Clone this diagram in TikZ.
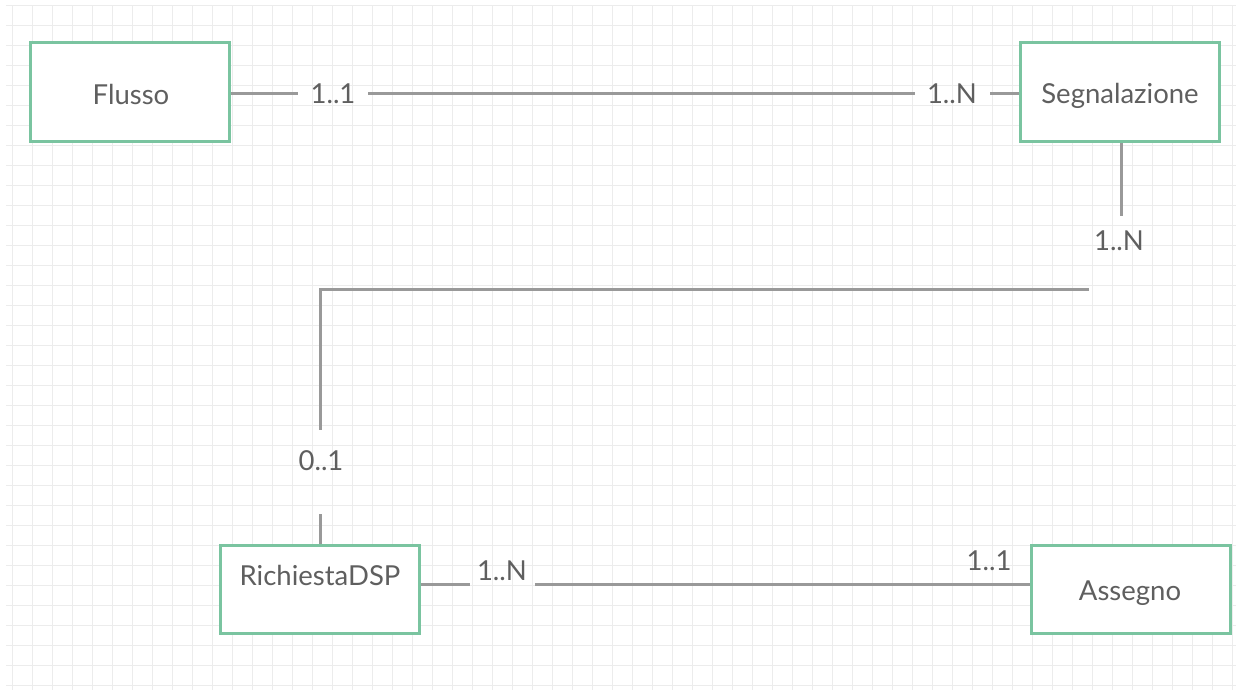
\documentclass[tikz,border=0pt]{standalone}
\usepackage{fontspec}
\setmainfont{Lato}
\definecolor{boxgreen}{RGB}{122,196,160}
\definecolor{linegray}{RGB}{153,153,153}
\definecolor{txtgray}{RGB}{95,95,95}
\definecolor{gridgray}{RGB}{236,236,236}
\begin{document}
\begin{tikzpicture}[x=1pt,y=-1pt,
  entity/.style={draw=boxgreen,line width=3pt,fill=white,minimum width=199pt,text=txtgray,font=\fontsize{27.5}{30}\selectfont,inner sep=0pt},
  card/.style={text=txtgray,font=\fontsize{27.5}{30}\selectfont,inner sep=0pt},
  conn/.style={draw=linegray,line width=3pt}]
\useasboundingbox (0,0) rectangle (1242,695);
\fill[white] (0,0) rectangle (1242,695);
\foreach \x in {12,32,...,1232} \draw[gridgray,line width=0.8pt] (\x,6) -- (\x,690);
\foreach \y in {5,25,...,685} \draw[gridgray,line width=0.8pt] (6,\y) -- (1236,\y);
% entities
\node[entity,minimum height=99pt] (flusso) at (130,92.5) {};
\node[card] (flussotxt) at (131,94) {Flusso};
\node[entity,minimum height=99pt] (seg) at (1120,92.5) {};
\node[card] (segtxt) at (1120,96) {Segnalazione};
\node[entity,minimum height=88pt] (rich) at (319.5,589) {};
\node[card] (richtxt) at (320,575) {RichiestaDSP};
\node[entity,minimum height=88pt] (ass) at (1130.5,589) {};
\node[card] (asstxt) at (1130,593) {Assegno};
% cardinality labels
\node[card] (c1) at (333,94) {1..1};
\node[card] (c2) at (952,94) {1..N};
\node[card] (c3) at (1119,241) {1..N};
\node[card] (c4) at (321,461) {0..1};
\node[card] (c5) at (502,571) {1..N};
\node[card] (c6) at (989,561) {1..1};
% gap end points
\coordinate (g1) at (298,94);
\coordinate (g2) at (368,94);
\coordinate (g3) at (915,94);
\coordinate (g4) at (990,94);
\coordinate (g5) at (1121,216);
\coordinate (g6) at (1089,289);
\coordinate (g7) at (320,289);
\coordinate (g8) at (320,430);
\coordinate (g9) at (320,514);
\coordinate (g10) at (470,584);
\coordinate (g11) at (535,584);
% connectors
\draw[conn] (flusso.east |- g1) -- (g1);
\draw[conn] (g2) -- (g3);
\draw[conn] (g4) -- (seg.west |- g4);
\draw[conn] (seg.south -| g5) -- (g5);
\draw[conn] (g6) -- (g7) -- (g8);
\draw[conn] (g9) -- (rich.north -| g9);
\draw[conn] (rich.east |- g10) -- (g10);
\draw[conn] (g11) -- (ass.west |- g11);
\end{tikzpicture}
\end{document}
